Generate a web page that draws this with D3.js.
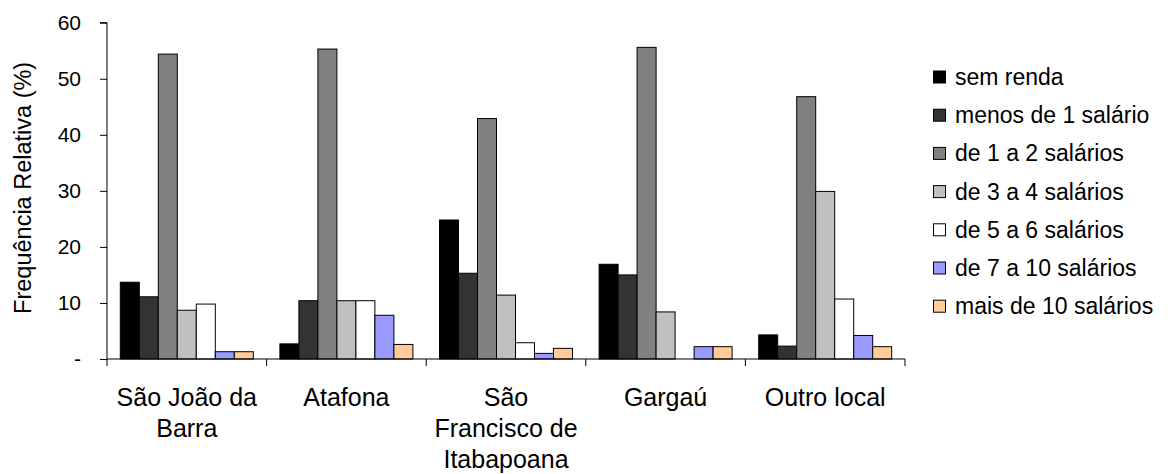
<!DOCTYPE html>
<html>
<head>
<meta charset="utf-8">
<script src="https://cdn.jsdelivr.net/npm/d3@7"></script>
<style>
  html, body { margin: 0; padding: 0; background: #fff; }
  svg { display: block; font-family: "Liberation Sans", Arial, Helvetica, sans-serif; }
</style>
</head>
<body>
<svg id="chart" width="1168" height="474"></svg>
<script>
// ---- data ----
const categories = [
  ["São João da", "Barra"],
  ["Atafona"],
  ["São", "Francisco de", "Itabapoana"],
  ["Gargaú"],
  ["Outro local"]
];
const seriesNames = [
  "sem renda",
  "menos de 1 salário",
  "de 1 a 2 salários",
  "de 3 a 4 salários",
  "de 5 a 6 salários",
  "de 7 a 10 salários",
  "mais de 10 salários"
];
const semRenda      = [13.7, 2.7, 24.8, 16.9, 4.3];
const menos1        = [11.1, 10.4, 15.3, 15.0, 2.3];
const de1a2         = [54.4, 55.3, 42.9, 55.6, 46.8];
const de3a4         = [8.7, 10.4, 11.4, 8.4, 29.9];
const de5a6         = [9.8, 10.4, 2.9, 0, 10.7];
const de7a10        = [1.3, 7.8, 1.0, 2.2, 4.2];
const mais10        = [1.3, 2.6, 1.9, 2.2, 2.2];
const seriesValues = [semRenda, menos1, de1a2, de3a4, de5a6, de7a10, mais10];
const seriesColors = ["#000000", "#333333", "#808080", "#c0c0c0", "#ffffff", "#9999ff", "#ffcc99"];
const yTicks = [0, 10, 20, 30, 40, 50, 60];
const yTickLabels = ["-", "10", "20", "30", "40", "50", "60"];
const yTitle = "Frequência Relativa (%)";

// ---- layout ----
const svg = d3.select("#chart");
const plotLeft = 107, plotRight = 905, plotTop = 22.7, plotBottom = 359;

const catKeys = categories.map((c, i) => i);
const x0 = d3.scaleBand().domain(catKeys).range([plotLeft, plotRight]).padding(0);
const x1 = d3.scaleBand().domain(d3.range(seriesNames.length))
  .range([0, x0.bandwidth()]).paddingInner(0).paddingOuter(0.7);
const y = d3.scaleLinear().domain([0, 60]).range([plotBottom, plotTop]);

// bars
seriesValues.forEach((vals, s) => {
  svg.append("g").selectAll("rect").data(vals).join("rect")
    .attr("x", (d, i) => x0(i) + x1(s))
    .attr("y", d => y(d))
    .attr("width", x1.bandwidth())
    .attr("height", d => y(0) - y(d))
    .attr("fill", seriesColors[s])
    .attr("stroke", "#000")
    .attr("stroke-width", 1);
});

// y axis
const yAxis = d3.axisLeft(y).tickValues(yTicks).tickSize(7).tickPadding(19)
  .tickFormat((d, i) => yTickLabels[i]);
const gy = svg.append("g").attr("transform", `translate(${plotLeft},0)`).call(yAxis);
gy.selectAll("text").attr("font-size", 21).attr("fill", "#000")
  .attr("font-family", "'Liberation Sans', Arial, sans-serif");
gy.selectAll("line, path").attr("stroke", "#000");
gy.select(".domain").attr("d", `M-7,${plotTop}H0V${plotBottom}`);

// x axis line + category separators
const gx = svg.append("g");
gx.append("line").attr("x1", plotLeft).attr("x2", plotRight).attr("y1", plotBottom).attr("y2", plotBottom)
  .attr("stroke", "#000");
const bounds = catKeys.map(i => x0(i)).concat([plotRight]);
gx.selectAll("line.sep").data(bounds).join("line").attr("class", "sep")
  .attr("x1", d => d).attr("x2", d => d).attr("y1", plotBottom).attr("y2", plotBottom + 7)
  .attr("stroke", "#000");

// x labels
categories.forEach((lines, i) => {
  const cx = x0(i) + x0.bandwidth() / 2;
  const t = svg.append("text")
    .attr("x", cx)
    .attr("y", 406)
    .attr("text-anchor", "middle")
    .attr("font-size", 25)
    .attr("fill", "#000");
  lines.forEach((ln, j) => {
    t.append("tspan").attr("x", cx).attr("dy", j === 0 ? 0 : 31).text(ln);
  });
});

// y title
svg.append("text")
  .attr("transform", `translate(31,${(plotTop + plotBottom) / 2 - 3}) rotate(-90)`)
  .attr("text-anchor", "middle")
  .attr("font-size", 23.5)
  .attr("fill", "#000")
  .text(yTitle);

// legend
const lg = svg.append("g");
seriesNames.forEach((name, s) => {
  const cy = 77 + s * 38.2;
  lg.append("rect").attr("x", 933.5).attr("y", cy - 6).attr("width", 12).attr("height", 12)
    .attr("fill", seriesColors[s]).attr("stroke", "#000").attr("stroke-width", 1);
  lg.append("text").attr("x", 955).attr("y", cy + 8).attr("font-size", 23).attr("fill", "#000")
    .text(name);
});
</script>
</body>
</html>
